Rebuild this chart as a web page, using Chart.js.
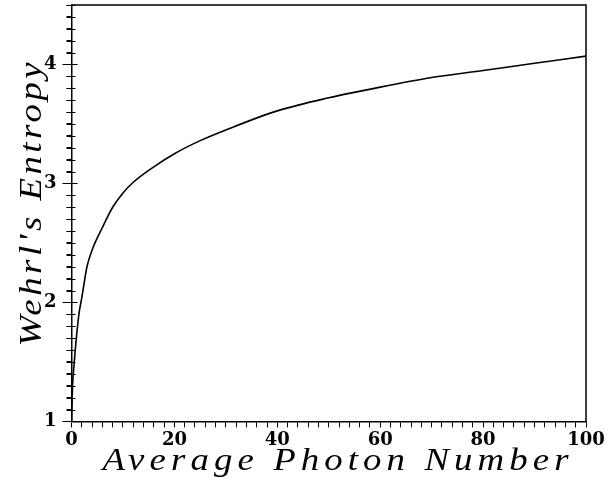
<!DOCTYPE html>
<html>
<head>
<meta charset="utf-8">
<script src="https://cdn.jsdelivr.net/npm/chart.js@4"></script>
<style>
  body { margin: 0; background: #fff; }
</style>
</head>
<body>
<canvas id="myChart" width="616" height="484"></canvas>
<script>
// average photon number (x) and Wehrl's entropy (y)
let photonNumber = [0, 0.2, 0.5, 1, 1.5, 2, 3, 4, 6, 8, 10, 12, 16, 20, 25, 30, 40, 50, 60, 70, 80, 90, 100]
let wehrlEntropy = [1.0, 1.3, 1.48, 1.73, 1.92, 2.04, 2.30, 2.44, 2.63, 2.80, 2.92, 3.01, 3.14, 3.25, 3.36, 3.45, 3.61, 3.72, 3.81, 3.89, 3.95, 4.01, 4.07]
let xTickLabels = [0, 20, 40, 60, 80, 100]
let yTickLabels = [1, 2, 3, 4]
let xTitle = 'Average Photon Number'
let yTitle = "Wehrl's Entropy"

let points = photonNumber.map((x, i) => ({ x: x, y: wehrlEntropy[i] }))

let isYMajor = v => yTickLabels.includes(Math.round(v * 1000) / 1000)

// wide, letter-spaced italic text stretched to a given length
function spacedText(ctx, text, length, sx) {
  ctx.letterSpacing = '0px'
  let w = ctx.measureText(text).width
  let gap = (length / sx - w) / (text.length - 1)
  ctx.letterSpacing = gap + 'px'
  ctx.scale(sx, 1)
  ctx.fillText(text, 0, 0)
}

// box on top and right, ticks through the y axis, axis titles
let frameAndTitles = {
  id: 'frameAndTitles',
  afterDraw(chart) {
    let ctx = chart.ctx
    let a = chart.chartArea
    let y = chart.scales.y
    ctx.save()
    ctx.strokeStyle = '#000'
    ctx.lineWidth = 1.5
    ctx.beginPath()
    ctx.moveTo(a.left, a.top)
    ctx.lineTo(a.right, a.top)
    ctx.lineTo(a.right, a.bottom)
    ctx.stroke()

    ctx.lineWidth = 1
    ctx.beginPath()
    y.ticks.forEach(t => {
      let py = Math.round(y.getPixelForValue(t.value)) + 0.5
      let major = isYMajor(t.value)
      ctx.moveTo(a.left - (major ? 9 : 5), py)
      ctx.lineTo(a.left + (major ? 6 : 4), py)
    })
    ctx.stroke()

    ctx.fillStyle = '#000'
    ctx.font = 'italic 32px "Liberation Serif"'
    ctx.textBaseline = 'alphabetic'
    ctx.textAlign = 'left'

    ctx.save()
    ctx.translate(a.left + 31, 470)
    spacedText(ctx, xTitle, 466, 1.15)
    ctx.restore()

    ctx.save()
    ctx.translate(41, a.bottom - 75)
    ctx.rotate(-Math.PI / 2)
    spacedText(ctx, yTitle, 284, 1.15)
    ctx.restore()
    ctx.restore()
  }
}

new Chart(document.getElementById('myChart').getContext('2d'), {
  type: 'line',
  data: {
    datasets: [{
      data: points,
      borderColor: '#000',
      borderWidth: 1.6,
      pointRadius: 0,
      cubicInterpolationMode: 'monotone',
      fill: false
    }]
  },
  options: {
    responsive: false,
    animation: false,
    layout: { padding: { left: 34, right: 30, top: 5, bottom: 31 } },
    plugins: { legend: { display: false }, tooltip: { enabled: false } },
    scales: {
      x: {
        type: 'linear',
        min: 0,
        max: 100,
        border: { display: true, color: '#000', width: 1.5 },
        grid: { drawOnChartArea: false, drawTicks: true, tickLength: 6, color: '#000', tickWidth: 1 },
        ticks: {
          stepSize: 2,
          autoSkip: false,
          maxRotation: 0,
          padding: 2,
          color: '#000',
          font: { family: '"DejaVu Serif"', size: 18, weight: 'bold' },
          callback: v => xTickLabels.includes(v) ? String(v) : ''
        }
      },
      y: {
        type: 'linear',
        min: 1,
        max: 4.5,
        border: { display: true, color: '#000', width: 1.5 },
        grid: { drawOnChartArea: false, drawTicks: true, tickLength: 5, color: '#000', tickWidth: 1 },
        ticks: {
          stepSize: 0.1,
          autoSkip: false,
          padding: 10,
          color: '#000',
          font: { family: '"DejaVu Serif"', size: 18, weight: 'bold' },
          callback: v => isYMajor(v) ? String(Math.round(v)) : ''
        },
        afterFit: scale => { scale.paddingTop = 0 }
      }
    }
  },
  plugins: [frameAndTitles]
})
</script>
</body>
</html>
